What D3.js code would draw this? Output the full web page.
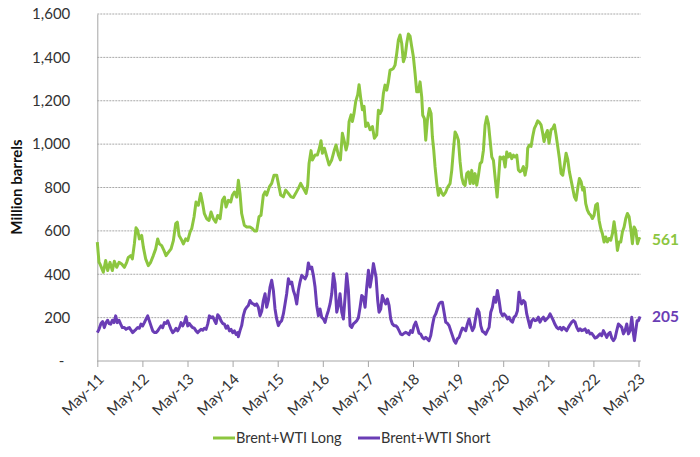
<!DOCTYPE html>
<html>
<head>
<meta charset="utf-8">
<script src="https://d3js.org/d3.v7.min.js"></script>
<style>
  body { margin: 0; background: #fff; }
  svg { display: block; font-family: "Lato", "Open Sans", sans-serif; }
  .tick-label { fill: #333; font-size: 15px; }
  .grid line { stroke: #a8a8a8; stroke-dasharray: 2,1; }
</style>
</head>
<body>
<script>
/*x values are months since May 2011, values are million barrels*/
var tickLabels = ["May-11","May-12","May-13","May-14","May-15","May-16","May-17","May-18","May-19","May-20","May-21","May-22","May-23"];
var yTicks = [0,200,400,600,800,1000,1200,1400,1600];
var seriesNames = ["Brent+WTI Long","Brent+WTI Short"];

var longSeries = [
[0,548],[0.45,455],[0.72,447],[1.6,409],[2.23,463],[2.76,417],[3.38,455],[4.0,417],[4.53,460],[5.16,432],[5.78,455],[6.49,447],[7.2,432],[7.82,455],[8.26,478],[8.88,486],[9.33,471],[9.86,540],[10.3,614],[10.75,602],[11.19,563],[11.81,579],[12.25,525],[12.87,471],[13.58,440],[14.2,455],[14.9,486],[15.54,517],[16.07,563],[16.51,540],[17.13,532],[17.75,509],[18.29,486],[18.91,501],[19.62,517],[20.24,555],[20.86,633],[21.3,640],[21.75,579],[22.28,563],[22.9,540],[23.52,563],[24.06,555],[24.68,594],[25.12,610],[25.74,664],[26.27,733],[26.9,718],[27.5,772],[27.96,733],[28.49,679],[29.1,656],[29.73,648],[30.26,687],[30.88,656],[31.5,640],[32.04,671],[32.66,656],[33.28,741],[33.81,756],[34.26,710],[34.88,741],[35.5,733],[35.94,764],[36.48,779],[37.1,756],[37.54,833],
[37.97,773],[38.41,680],[39.12,626],[39.75,618],[40.63,618],[41.25,611],[41.79,600],[42.41,600],[43.03,665],[43.56,672],[44.18,765],[44.63,780],[45.07,765],[45.78,803],[46.4,819],[47.02,857],[47.73,857],[48.17,819],[48.8,765],[49.5,757],[50.13,788],[50.84,773],[51.55,757],[52.17,754],[52.79,773],[53.5,796],[54.12,819],[54.83,796],[55.54,773],[55.98,811],[56.34,911],[56.87,970],[57.23,927],[57.94,950],[58.56,950],[59.09,981],[59.53,1016],[59.89,958],[60.42,981],[61.04,942],[61.66,904],[62.37,927],[63.08,973],[63.53,996],[64.15,950],[64.68,927],[65.21,1050],[65.74,1012],[66.19,973],[66.63,1004],[66.99,1104],[67.52,1135],[67.87,1104],[68.32,1143],[68.76,1197],[69.29,1228],[69.65,1274],[70.09,1212],[70.54,1158],[70.98,1174],[71.42,1081],[71.96,1097],[72.58,1066],[73.2,1081],[73.73,1027],[74.35,1043],
[74.79,1156],[75.23,1141],[75.67,1156],[76.12,1233],[76.56,1272],[77.01,1249],[77.45,1287],[77.89,1341],[78.34,1344],[78.78,1349],[79.22,1364],[79.67,1418],[80.11,1480],[80.55,1503],[81.0,1464],[81.44,1380],[81.89,1403],[82.33,1464],[82.77,1508],[83.22,1498],[83.66,1449],[84.1,1403],[84.55,1326],[84.99,1241],[85.44,1241],[85.88,1287],[86.32,1218],[86.59,1133],[87.03,1118],[87.39,1018],[87.83,1110],[88.36,1164],[88.81,1141],[89.16,1033],[89.52,972],[89.87,895],[90.32,818],[90.76,764],[91.2,795],[91.65,775],[92.09,764],[92.71,779],[93.24,802],[93.86,818],[94.31,879],[94.75,972],[95.2,1056],[95.64,1041],[96.08,1018],[96.53,918],[96.97,848],[97.41,818],[97.86,810],[98.3,864],[98.74,872],[99.19,818],[99.63,879],[100.08,818],[100.52,864],[100.96,810],[101.41,856],[101.85,910],[102.29,918],[102.74,972],[103.18,1087],[103.63,1126],[104.07,1095],[104.51,1018],[104.96,941],[105.4,925],[105.84,848],[106.38,756],[106.73,833],[107.17,941],[107.62,933],[108.06,941],[108.51,895],[108.95,964],[109.39,941],[109.84,956],[110.28,933],[110.72,949],[111.17,941],[111.61,949],
[112.04,881],[112.48,873],[112.92,878],[113.37,896],[113.81,857],[114.26,896],[114.52,981],[114.97,996],[115.41,989],[115.85,1035],[116.3,1073],[116.74,1089],[117.18,1107],[117.63,1100],[118.07,1089],[118.51,1050],[118.87,1012],[119.31,1043],[119.76,1063],[120.2,1004],[120.73,1066],[121.18,1073],[121.62,1089],[122.06,1043],[122.51,989],[122.95,935],[123.4,865],[123.84,857],[124.28,904],[124.73,958],[125.17,930],[125.61,873],[126.06,834],[126.5,796],[126.94,757],[127.39,742],[127.83,796],[128.27,842],[128.72,827],[129.16,788],[129.52,800],[129.96,726],[130.4,696],[130.85,680],[131.29,672],[131.74,657],[132.18,672],[132.62,719],[133.07,726],[133.51,649],[133.95,611],[134.4,587],[134.84,549],[135.28,572],[135.73,549],[136.17,565],[136.62,557],[137.06,587],[137.5,642],[137.95,587],[138.39,510],[138.83,549],[139.28,549],[139.72,595],[140.17,618],[140.61,657],[141.05,680],[141.5,665],[141.94,611],[142.38,541],[142.83,618],[143.27,603],[143.72,541],[144.16,565],[144.51,561]
];

var shortSeries = [
[0.01,131],[0.45,146],[0.98,173],[1.43,182],[1.87,154],[2.32,177],[2.76,188],[3.11,173],[3.56,170],[4.0,188],[4.45,177],[4.89,208],[5.33,177],[5.78,188],[6.22,170],[6.66,154],[7.2,154],[7.64,146],[8.08,151],[8.53,154],[8.97,142],[9.41,131],[9.86,139],[10.3,146],[10.74,154],[11.19,151],[11.63,170],[12.08,162],[12.52,177],[12.96,193],[13.41,208],[13.85,185],[14.29,162],[14.74,139],[15.18,131],[15.62,131],[16.07,139],[16.51,151],[16.96,162],[17.4,154],[17.84,177],[18.29,173],[18.73,185],[19.17,166],[19.62,146],[20.06,131],[20.51,139],[20.95,151],[21.39,139],[21.84,154],[22.28,177],[22.72,162],[23.17,177],[23.61,204],[24.06,162],[24.5,173],[24.94,162],[25.39,154],[25.83,151],[26.27,139],[26.72,131],[27.16,139],[27.6,146],[28.05,142],[28.49,151],[28.94,146],[29.38,170],[29.82,208],[30.27,200],[30.71,204],[31.15,188],[31.6,173],[32.04,213],[32.48,204],[32.93,185],[33.37,173],[33.82,170],[34.26,151],[34.7,162],[35.15,139],[35.59,146],[36.03,131],[36.48,139],[36.92,123],[37.36,131],
[37.53,112],[37.97,140],[38.41,163],[38.86,209],[39.3,236],[39.75,248],[40.19,256],[40.63,279],[41.08,267],[41.52,263],[41.96,256],[42.41,263],[42.85,248],[43.3,209],[43.74,229],[44.18,279],[44.63,310],[45.07,248],[45.51,279],[45.96,341],[46.4,372],[46.85,325],[47.29,240],[47.73,194],[48.18,163],[48.62,178],[49.06,186],[49.51,217],[49.95,263],[50.39,310],[50.84,379],[51.28,356],[51.73,364],[52.17,325],[52.61,302],[53.06,263],[53.5,325],[53.94,364],[54.39,395],[54.83,387],[55.28,379],[55.72,395],[56.16,452],[56.61,425],[57.05,433],[57.49,395],[57.94,341],[58.38,256],[58.83,209],[59.27,240],[59.71,202],[60.16,194],[60.6,178],[61.04,209],[61.49,233],[61.93,263],[62.38,310],[62.82,402],[63.26,356],[63.71,225],[64.15,256],[64.59,310],[65.04,225],[65.48,194],[65.93,294],[66.37,402],[66.81,325],[67.26,163],[67.7,155],[68.14,171],[68.59,178],[69.03,186],[69.47,199],[69.92,248],[70.36,302],[70.81,294],[71.25,248],[71.69,341],[72.14,418],[72.58,341],[73.02,387],[73.47,449],
[74.17,386],[74.61,279],[74.96,225],[75.41,240],[75.85,302],[76.3,279],[76.74,263],[77.18,286],[77.63,256],[78.07,194],[78.51,171],[78.96,163],[79.4,163],[79.85,155],[80.29,140],[80.73,124],[81.18,121],[81.62,128],[82.06,132],[82.51,128],[82.95,121],[83.39,140],[83.84,132],[84.28,163],[84.73,179],[85.17,155],[85.61,128],[86.06,124],[86.5,109],[86.94,102],[87.39,109],[87.83,102],[88.27,94],[88.72,117],[89.16,163],[89.61,202],[90.05,217],[90.49,240],[90.94,263],[91.38,271],[91.82,271],[92.27,225],[92.71,179],[93.15,174],[93.6,163],[94.04,140],[94.49,117],[94.93,94],[95.37,82],[95.82,102],[96.26,109],[96.7,132],[97.15,152],[97.59,148],[98.03,140],[98.48,171],[98.92,194],[99.37,163],[99.81,140],[100.25,155],[100.7,202],[101.14,240],[101.58,225],[102.03,163],[102.47,137],[102.92,132],[103.36,124],[103.8,140],[104.25,155],[104.69,225],[105.13,248],[105.58,294],[106.02,271],[106.46,325],[106.91,279],[107.35,225],[107.8,209],[108.24,217],[108.68,209],[109.13,194],[109.57,202],[110.01,186],[110.46,179],[110.9,202],[111.34,209],[111.79,232],
[112.21,317],[112.57,279],[112.92,263],[113.37,279],[113.81,271],[114.26,217],[114.7,186],[115.14,155],[115.59,186],[116.03,194],[116.47,186],[116.92,189],[117.36,202],[117.8,179],[118.25,194],[118.69,202],[119.14,186],[119.58,194],[120.02,202],[120.47,217],[120.91,202],[121.35,186],[121.8,168],[122.24,155],[122.69,148],[123.13,155],[123.57,143],[124.02,155],[124.46,148],[124.9,140],[125.35,155],[125.79,168],[126.23,179],[126.68,186],[127.12,179],[127.57,155],[128.01,140],[128.45,148],[128.9,140],[129.34,143],[129.78,148],[130.23,132],[130.67,140],[131.11,125],[131.56,128],[132.0,117],[132.45,106],[132.89,109],[133.33,117],[133.78,125],[134.22,117],[134.66,140],[135.11,125],[135.55,109],[136.0,125],[136.44,132],[136.88,106],[137.33,94],[137.77,106],[138.21,140],[138.66,171],[139.1,163],[139.54,155],[139.99,125],[140.43,140],[140.88,171],[141.32,125],[141.76,140],[142.21,202],[142.65,125],[142.92,94],[143.27,140],[143.63,186],[143.98,186],[144.42,205]
];

var colors = ["#8cc63f", "#6a3db5"];

drawChart();

function drawChart() {
	var svgWidth = 700, svgHeight = 457;
	var plotLeft = 97.3, plotRight = 638.5, plotTop = 14, plotBottom = 361;
	var xEnd = 144.6;

	var svg = d3.select("body").append("svg")
		.attr("width", svgWidth)
		.attr("height", svgHeight);

	/*scales*/
	var xScale = d3.scaleLinear().domain([0, 144]).range([plotLeft, plotRight]);
	var yScale = d3.scaleLinear().domain([0, 1600]).range([plotBottom, plotTop]);

	/*dotted gridlines*/
	svg.append("g").attr("class", "grid")
		.selectAll("line")
		.data(yTicks.filter(d => d > 0))
		.enter().append("line")
		.attr("x1", plotLeft).attr("x2", xScale(xEnd))
		.attr("y1", d => yScale(d)).attr("y2", d => yScale(d));

	/*y axis*/
	var leftAxis = d3.axisLeft(yScale)
		.tickValues(yTicks)
		.tickSize(0)
		.tickPadding(27)
		.tickFormat(d => d === 0 ? "-" : d3.format(",")(d));
	var yAxis = svg.append("g")
		.attr("transform", `translate(${plotLeft},0)`)
		.call(leftAxis);
	yAxis.attr("font-size", null).attr("font-family", null);
	yAxis.select(".domain").attr("stroke", "#a6a6a6");
	yAxis.selectAll("text").attr("class", "tick-label");
	yAxis.selectAll(".tick").filter(d => d === 0).select("text").attr("dx", -6);

	/*x axis*/
	var bottomAxis = d3.axisBottom(xScale)
		.tickValues(d3.range(0, 145, 12))
		.tickSize(6)
		.tickSizeOuter(0)
		.tickFormat((d, i) => tickLabels[i]);
	var xAxis = svg.append("g")
		.attr("transform", `translate(0,${plotBottom})`)
		.call(bottomAxis);
	xAxis.attr("font-size", null).attr("font-family", null);
	xAxis.select(".domain").attr("stroke", "#a6a6a6").attr("d", `M${plotLeft},0H${xScale(xEnd)}`);
	xAxis.selectAll("line").attr("stroke", "#a6a6a6");
	xAxis.selectAll("text")
		.attr("class", "tick-label")
		.attr("text-anchor", "end")
		.attr("y", 0).attr("dy", 0)
		.attr("transform", "translate(7,19) rotate(-45)");

	/*y axis title*/
	svg.append("text")
		.attr("transform", `translate(22,187) rotate(-90)`)
		.attr("text-anchor", "middle")
		.attr("font-size", "15px")
		.attr("font-weight", "bold")
		.attr("fill", "#111")
		.text("Million barrels");

	/*lines*/
	var line = d3.line().x(d => xScale(d[0])).y(d => yScale(d[1]));
	[longSeries, shortSeries].forEach(function (series, i) {
		svg.append("path")
			.datum(series)
			.attr("fill", "none")
			.attr("stroke", colors[i])
			.attr("stroke-width", 3)
			.attr("stroke-linejoin", "round")
			.attr("d", line);

		/*last value label*/
		var last = series[series.length - 1];
		svg.append("text")
			.attr("x", 652)
			.attr("y", yScale(last[1]))
			.attr("dy", "0.35em")
			.attr("font-size", "15.5px")
			.attr("font-weight", "bold")
			.attr("fill", colors[i])
			.text(d3.format(".0f")(last[1]));
	});

	/*legend*/
	var legendX = [213, 358];
	seriesNames.forEach(function (name, i) {
		svg.append("line")
			.attr("x1", legendX[i]).attr("x2", legendX[i] + 22)
			.attr("y1", 438).attr("y2", 438)
			.attr("stroke", colors[i])
			.attr("stroke-width", 3);
		svg.append("text")
			.attr("x", legendX[i] + 23)
			.attr("y", 438)
			.attr("dy", "0.35em")
			.attr("class", "tick-label")
			.style("font-size", "14.5px")
			.text(name);
	});
}
</script>
</body>
</html>
